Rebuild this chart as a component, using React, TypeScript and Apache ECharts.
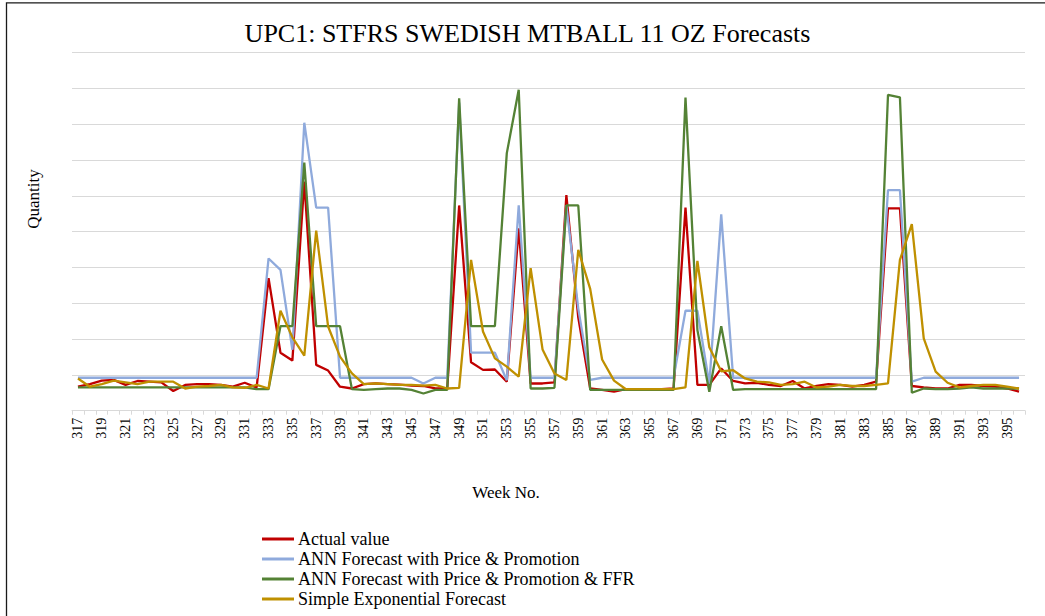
import React, { useEffect, useRef } from "react";
import * as echarts from "echarts";

const weeks: string[] = Array.from({ length: 80 }, (_, i) => String(317 + i));

const actual = [
  67, 74, 84, 86, 72, 83, 81, 79, 55, 72, 74, 74, 72, 67, 78, 65, 370, 162, 140, 640,
  128, 112, 67, 62, 74, 76, 74, 73, 70, 69, 62, 62, 573, 135, 114, 115, 81, 509, 76, 76,
  79, 602, 260, 62, 58, 53, 60, 60, 60, 60, 62, 567, 72, 72, 118, 83, 76, 78, 72, 69,
  83, 62, 69, 74, 72, 67, 72, 81, 565, 565, 69, 65, 62, 62, 72, 72, 69, 67, 62, 53,
];

const annPP = [
  92, 92, 92, 92, 92, 92, 92, 92, 92, 92, 92, 92, 92, 92, 92, 92, 425, 393, 170, 804,
  567, 567, 92, 92, 92, 92, 92, 92, 92, 76, 92, 92, 860, 162, 162, 162, 85, 573, 92, 92,
  92, 573, 285, 86, 92, 92, 92, 92, 92, 92, 92, 279, 279, 75, 548, 92, 92, 92, 92, 92,
  92, 92, 92, 92, 92, 92, 92, 92, 616, 616, 81, 92, 92, 92, 92, 92, 92, 92, 92, 92,
];

const annPPF = [
  65, 65, 65, 65, 65, 65, 65, 65, 65, 65, 65, 65, 65, 65, 65, 60, 60, 236, 236, 693,
  236, 236, 236, 60, 58, 60, 62, 62, 58, 48, 58, 58, 872, 236, 236, 236, 719, 896, 62, 62,
  64, 573, 573, 58, 58, 58, 58, 58, 58, 58, 58, 874, 225, 53, 236, 58, 60, 60, 60, 60,
  60, 60, 60, 60, 60, 60, 60, 60, 882, 875, 50, 62, 60, 60, 62, 65, 62, 62, 62, 62,
];

const sef = [
  90, 67, 74, 84, 79, 74, 81, 81, 81, 62, 67, 69, 72, 65, 64, 72, 62, 279, 205, 154,
  503, 235, 151, 104, 74, 76, 74, 72, 72, 70, 72, 62, 64, 421, 221, 146, 123, 95, 398, 171,
  104, 86, 449, 340, 143, 84, 60, 60, 60, 60, 60, 65, 418, 177, 110, 113, 90, 81, 79, 72,
  74, 81, 65, 67, 72, 69, 69, 72, 76, 421, 521, 202, 109, 78, 65, 69, 72, 72, 67, 62,
];

const seriesNames = [
  "Actual value",
  "ANN Forecast with Price & Promotion",
  "ANN Forecast with Price & Promotion & FFR",
  "Simple Exponential Forecast",
];
const seriesColors = ["#C00000", "#8FAADC", "#548235", "#BF9000"];

const FONT = "'Liberation Serif', 'Times New Roman', serif";

export default function App() {
  const ref = useRef<HTMLDivElement>(null);
  useEffect(() => {
    if (!ref.current) return;
    const chart = echarts.init(ref.current, undefined, { renderer: "svg" });
    const dataSets = [actual, annPP, annPPF, sef];
    chart.setOption({
      animation: false,
      backgroundColor: "#ffffff",
      textStyle: { fontFamily: FONT, color: "#000" },
      grid: { left: 72, right: 20, top: 52.5, bottom: 205.3, containLabel: false },
      graphic: [
        {
          type: "rect",
          shape: { x: 6.5, y: 2.8, width: 1100, height: 700 },
          style: { fill: "none", stroke: "#1a1a1a", lineWidth: 1.3 },
          silent: true,
        },
        {
          type: "text",
          x: 527.5,
          y: 33,
          style: {
            text: "UPC1: STFRS SWEDISH MTBALL 11 OZ Forecasts",
            fontFamily: FONT,
            fontSize: 26,
            fill: "#000",
            align: "center",
            verticalAlign: "middle",
          },
        },
        {
          type: "text",
          x: 33,
          y: 199,
          rotation: Math.PI / 2,
          style: {
            text: "Quantity",
            fontFamily: FONT,
            fontSize: 17,
            fill: "#000",
            align: "center",
            verticalAlign: "middle",
          },
        },
        {
          type: "text",
          x: 506,
          y: 492,
          style: {
            text: "Week No.",
            fontFamily: FONT,
            fontSize: 17,
            fill: "#000",
            align: "center",
            verticalAlign: "middle",
          },
        },
      ],
      legend: {
        orient: "vertical",
        left: 262,
        top: 529,
        padding: 0,
        itemGap: 0,
        itemWidth: 32,
        itemHeight: 3,
        icon: "rect",
        data: seriesNames,
        textStyle: { fontFamily: FONT, fontSize: 18, color: "#000", lineHeight: 20, padding: [0, 0, 0, -1] },
      },
      xAxis: {
        type: "category",
        data: weeks,
        boundaryGap: true,
        axisLine: { lineStyle: { color: "#d9d9d9", width: 1 } },
        axisTick: { show: true, interval: 0, length: 4, lineStyle: { color: "#d9d9d9" } },
        axisLabel: { interval: 1, rotate: 90, fontSize: 14, margin: 7, color: "#000", fontFamily: FONT },
        splitLine: { show: false },
      },
      yAxis: {
        type: "value",
        min: 0,
        max: 1000,
        interval: 100,
        axisLabel: { show: false },
        axisLine: { show: false },
        axisTick: { show: false },
        splitLine: { lineStyle: { color: "#d9d9d9", width: 1.2 } },
      },
      series: dataSets.map((d, k) => ({
        name: seriesNames[k],
        type: "line",
        data: d,
        symbol: "none",
        showSymbol: false,
        lineStyle: { color: seriesColors[k], width: 2.3 },
        itemStyle: { color: seriesColors[k] },
        z: 2 + k,
      })),
    });
    return () => chart.dispose();
  }, []);
  return (
    <div
      ref={ref}
      style={{ position: "absolute", left: 0, top: 0, width: 1045, height: 616 }}
    />
  );
}
